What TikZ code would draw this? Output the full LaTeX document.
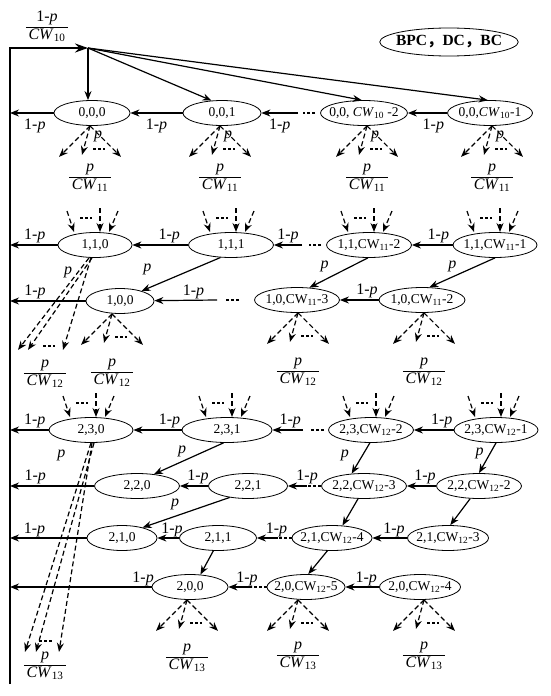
\documentclass[tikz,border=0pt]{standalone}
\usepackage{fontspec}
\setmainfont{Liberation Serif}
\newfontfamily\cjk{Noto Sans CJK SC}
\usetikzlibrary{shapes.geometric,arrows.meta,positioning}

\setlength{\arrayrulewidth}{0.8pt}
\newcommand{\pcw}[1]{\begin{tabular}{@{\,}c@{\,}}\textit{p}\\\hline\textit{CW}\textsubscript{#1}\end{tabular}}
\newcommand{\onemp}{1-\textit{p}}

\tikzset{
	stnode/.style={draw,ellipse,line width=0.8pt,minimum width=#1,minimum height=25pt,
		inner xsep=-4pt,inner ysep=0pt,font=\fontsize{13.5}{14}\selectfont},
	ar/.style={->,line width=1.2pt},
	dar/.style={->,line width=1.2pt,dash pattern=on 5pt off 3pt},
	dotmark/.style={line width=1.2pt,dash pattern=on 3pt off 2pt},
	bound/.style={line width=2.5pt},
	lbl/.style={font=\fontsize{16}{17}\selectfont,inner sep=1pt},
	frac/.style={font=\fontsize{16}{17}\selectfont,inner sep=0pt}
}

\begin{document}
\begin{tikzpicture}[x=1pt,y=-1pt,>={Stealth[length=9pt,width=7pt]}]
	\useasboundingbox (0,0) rectangle (550,696);

	%% Border line and hub
	\coordinate (bl) at (10,684);
	\coordinate (tl) at (10,48);
	\coordinate (hub) at (88,48);
	\draw [bound,-{Stealth[length=13pt,width=9pt]}] (bl) -- (tl) -- (hub);
	\node [frac] (f10) at (47,27) {\begin{tabular}{@{\,}c@{\,}}\onemp\\\hline\textit{CW}\textsubscript{10}\end{tabular}};
	\node [stnode=135pt,minimum height=28pt,font=\bfseries\fontsize{15.5}{16}\selectfont] (key) at (449,42) {BPC{\cjk ，}DC{\cjk ，}BC};

	%% States
	\node [stnode=76pt] (n000) at (92,113) {0,0,0};
	\node [stnode=78pt] (n001) at (222,113) {0,0,1};
	\node [stnode=78pt] (n00a) at (364,113) {0,0, \textit{CW}\textsubscript{10} -2};
	\node [stnode=85pt] (n00b) at (490,113) {0,0,\textit{CW}\textsubscript{10}-1};

	\node [stnode=74pt] (n110) at (95,245) {1,1,0};
	\node [stnode=85pt] (n111) at (231,245) {1,1,1};
	\node [stnode=85pt] (n11a) at (369,245) {1,1,CW\textsubscript{11}-2};
	\node [stnode=84pt] (n11b) at (495,245) {1,1,CW\textsubscript{11}-1};
	\node [stnode=68pt] (n100) at (120,301) {1,0,0};
	\node [stnode=85pt] (n10a) at (297,300) {1,0,CW\textsubscript{11}-3};
	\node [stnode=86pt] (n10b) at (422,300) {1,0,CW\textsubscript{11}-2};

	\node [stnode=84pt] (n230) at (91,430) {2,3,0};
	\node [stnode=90pt] (n231) at (227,430) {2,3,1};
	\node [stnode=85pt] (n23a) at (371,430) {2,3,CW\textsubscript{12}-2};
	\node [stnode=84pt] (n23b) at (496,430) {2,3,CW\textsubscript{12}-1};
	\node [stnode=85pt] (n220) at (137,486) {2,2,0};
	\node [stnode=79pt] (n221) at (248,486) {2,2,1};
	\node [stnode=85pt] (n22a) at (364,486) {2,2,CW\textsubscript{12}-3};
	\node [stnode=85pt] (n22b) at (479,486) {2,2,CW\textsubscript{12}-2};
	\node [stnode=70pt] (n210) at (122,538) {2,1,0};
	\node [stnode=77pt] (n211) at (218,538) {2,1,1};
	\node [stnode=80pt] (n21a) at (332,538) {2,1,CW\textsubscript{12}-4};
	\node [stnode=81pt] (n21b) at (448,538) {2,1,CW\textsubscript{12}-3};
	\node [stnode=76pt] (n200) at (190,587) {2,0,0};
	\node [stnode=76pt] (n20a) at (306,587) {2,0,CW\textsubscript{12}-5};
	\node [stnode=81pt] (n20b) at (420,587) {2,0,CW\textsubscript{12}-4};

	%% Hub arrows
	\draw [ar] (hub) -- (hub |- n000.north);
	\draw [ar] (hub) -- (n001.130);
	\draw [ar] (hub) -- (n00a.100);
	\draw [ar] (hub) -- (n00b.100);

	%% Row 0
	\draw [ar] (n000) -- (n000 -| tl) node [lbl,pos=0.43,below=4pt] {\onemp};
	\draw [ar] (n001) -- (n000) node [lbl,midway,below=4pt] {\onemp};
	\draw [ar] (n00a.west) ++(-22,0) -- (n001) node [lbl,midway,below=4pt] {\onemp};
	\draw [dotmark] (n00a.west) ++(-5,0) -- ++(-12,0);
	\draw [ar] (n00b) -- (n00a) node [lbl,pos=0.35,below=4pt] {\onemp};

	%% Row 1
	\draw [ar] (n110) -- (n110 -| tl) node [lbl,pos=0.48,above] {\onemp};
	\draw [ar] (n111) -- (n110) node [lbl,pos=0.34,above] {\onemp};
	\draw [ar] (n11a.west) ++(-24,0) -- (n111) node [lbl,midway,above] {\onemp};
	\draw [dotmark] (n11a.west) ++(-5,0) -- ++(-12,0);
	\draw [ar] (n11b) -- (n11a) node [lbl,pos=0.35,above] {\onemp};
	\draw [ar] (n111.-130) -- (n100.25) node [lbl,pos=0.925,above=12pt] {\textit{p}};
	\draw [ar] (n11a.-95) -- (n10a.45) node [lbl,pos=0.74,above=6.5pt] {\textit{p}};
	\draw [ar] (n11b.south) -- (n10b.60) node [lbl,pos=0.65,above=3.5pt] {\textit{p}};
	\draw [ar] (n100) -- (n100 -| tl) node [lbl,pos=0.67,above] {\onemp};
	\draw [ar] (n10a.west) ++(-37,0) -- (n100) node [lbl,pos=0.375,above] {\onemp};
	\draw [dotmark] (n10a.west) ++(-15,0) -- ++(-13,0);
	\draw [ar] (n10b) -- (n10a) node [lbl,pos=0.3,above] {\onemp};

	%% Row 2
	\draw [ar] (n230) -- (n230 -| tl) node [lbl,pos=0.36,above] {\onemp};
	\draw [ar] (n231) -- (n230) node [lbl,pos=0.25,above] {\onemp};
	\draw [ar] (n23a.west) ++(-25,0) -- (n231) node [lbl,pos=0.42,above] {\onemp};
	\draw [dotmark] (n23a.west) ++(-4,0) -- ++(-14,0);
	\draw [ar] (n23b) -- (n23a) node [lbl,pos=0.3,above] {\onemp};
	\draw [ar] (n231.-105) -- (n220.35) node [lbl,pos=0.594,above=3pt] {\textit{p}};
	\draw [ar] (n23a.-95) -- (n22a.135) node [lbl,pos=0.4,left=12pt] {\textit{p}};
	\draw [ar] (n23b.south) -- (n22b.north) node [lbl,pos=0.34,left=5pt] {\textit{p}};
	\draw [ar] (n220) -- (n220 -| tl) node [lbl,pos=0.7,above] {\onemp};
	\draw [ar] (n221) -- (n220) node [lbl,pos=0.36,above] {\onemp};
	\draw [ar] (n22a.west) ++(-14,0) -- (n221) node [lbl,pos=0,above] {\onemp};
	\draw [dotmark] (n22a.west) -- ++(-14,0);
	\draw [ar] (n22b) -- (n22a) node [lbl,pos=0.38,above] {\onemp};
	\draw [ar] (n221.-148) -- (n210.27) node [lbl,pos=0.626,above=5pt] {\textit{p}};
	\draw [ar] (n22a.-115) -- (n21a.50);
	\draw [ar] (n22b.-125) -- (n21b.80);
	\draw [ar] (n210) -- (n210 -| tl) node [lbl,pos=0.68,above] {\onemp};
	\draw [ar] (n211) -- (n210) node [lbl,pos=0.33,above] {\onemp};
	\draw [ar] (n21a.west) ++(-14,0) -- (n211) node [lbl,pos=0.05,above] {\onemp};
	\draw [dotmark] (n21a.west) -- ++(-14,0);
	\draw [ar] (n21b) -- (n21a) node [lbl,pos=0.38,above] {\onemp};
	\draw [ar] (n211.-110) -- (n200.50);
	\draw [ar] (n21a.-110) -- (n20a.80);
	\draw [ar] (n200) -- (n200 -| tl) node [lbl,pos=0.06,above] {\onemp};
	\draw [ar] (n20a.west) ++(-15,0) -- (n200) node [lbl,pos=0.2,above] {\onemp};
	\draw [dotmark] (n20a.west) -- ++(-15,0);
	\draw [ar] (n20b) -- (n20a) node [lbl,pos=0.38,above] {\onemp};

	%% Incoming fans
	\foreach \n in {n110,n111,n11a,n11b,n230,n231,n23a,n23b} {
		\draw [dar] (\n.center) ++(-28,-34) -- ++(7,21);
		\draw [dar] (\n.center) ++(5,-37) -- ++(0,24);
		\draw [dar] (\n.center) ++(23,-34) -- ++(-9,21);
		\draw [dotmark] (\n.center) ++(-15,-27) -- ++(12,0);
	}

	%% Outgoing fans
	\foreach \n/\dx/\k/\fy in {n000/-2/11/51,n001/-2/11/51,n00a/3/11/51,n00b/2/11/51,
		n100/-8/12/58,n10a/1/12/58,n10b/2/12/58,n200/-3/13/57,n20a/-8/13/55,n20b/4/13/55} {
		\coordinate (a\n) at ([xshift=\dx pt]\n.south);
		\draw [dar] (a\n) -- ++(-31,31);
		\draw [dar] (a\n) -- ++(-8,29);
		\draw [dar] (a\n) -- ++(31,31);
		\draw [dotmark] (a\n) ++(3,23) -- ++(12,0);
		\node [frac] (f\n) at ([yshift=-\fy pt]a\n) {\pcw{\k}};
	}
	\foreach \n in {n000,n001,n00a,n00b}
		\node [lbl] (p\n) at ([xshift=8pt,yshift=-11pt]a\n) {\textit{p}};

	%% Long fans
	\draw [dar] ([xshift=-6pt]n110.south) -- ++(-71,92) node [lbl,pos=0.16,left=4pt] {\textit{p}};
	\draw [dar] ([xshift=-3pt]n110.south) -- ++(-64,92);
	\draw [dar] ([xshift=-4pt]n110.south) -- ++(-28,92);
	\draw [dotmark] ([xshift=-4pt]n110.south) ++(-48,88) -- ++(12,0);
	\node [frac] (f110) at (45,373) {\pcw{12}};

	\draw [dar] (n230.south) -- ++(-66,209) node [lbl,pos=0.06,left=20pt] {\textit{p}};
	\draw [dar] ([xshift=3pt]n230.south) -- ++(-58,209);
	\draw [dar] ([xshift=1pt]n230.south) -- ++(-33,209);
	\draw [dotmark] (n230.south) ++(-52,198) -- ++(13,0);
	\node [frac] (f230) at (45,665) {\pcw{13}};
\end{tikzpicture}
\end{document}
